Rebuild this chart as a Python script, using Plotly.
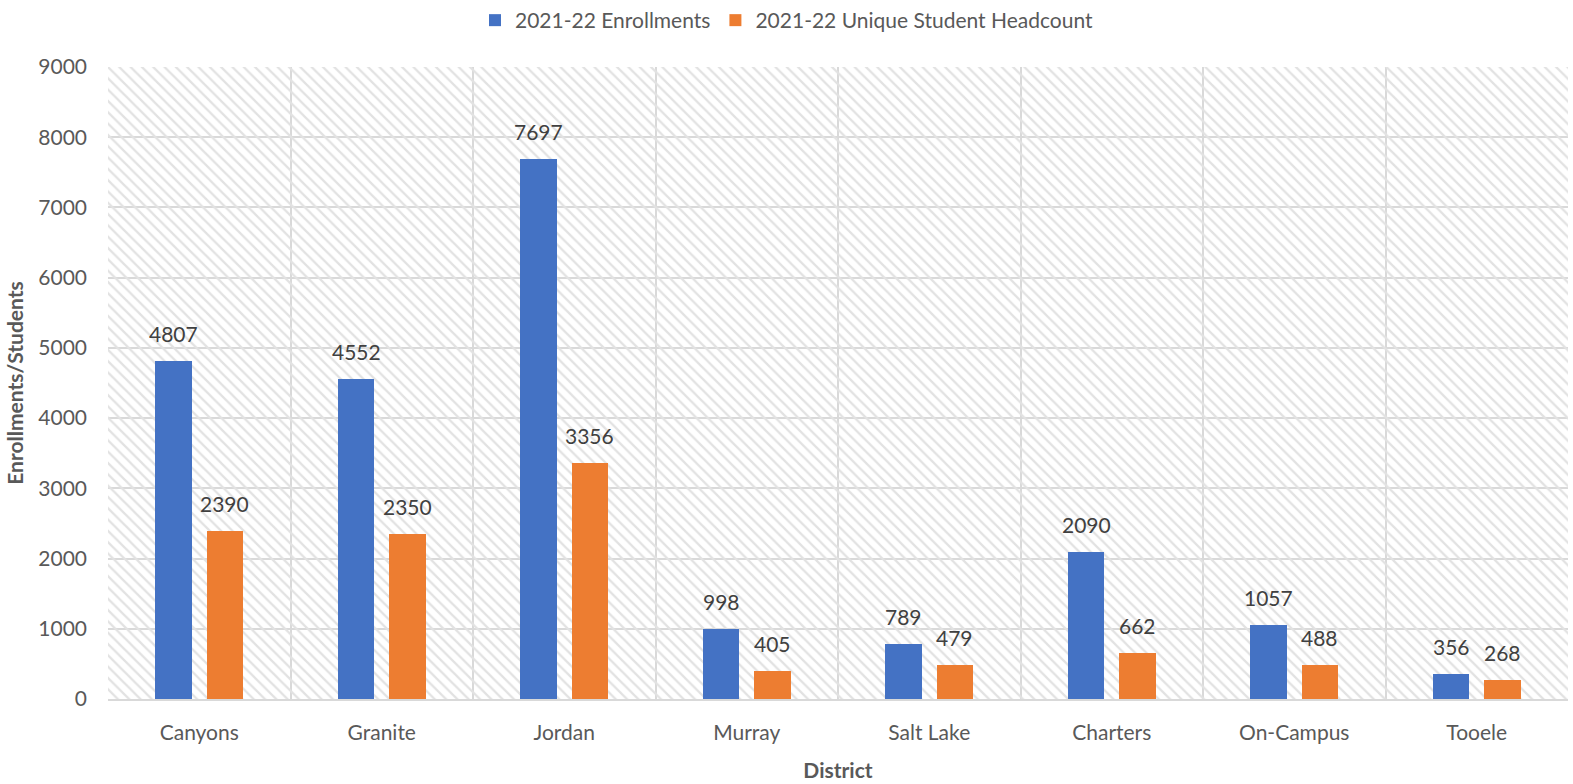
import plotly.graph_objects as go

districts = ["Canyons", "Granite", "Jordan", "Murray", "Salt Lake", "Charters", "On-Campus", "Tooele"]
enrollments = [4807, 4552, 7697, 998, 789, 2090, 1057, 356]
headcount = [2390, 2350, 3356, 405, 479, 662, 488, 268]
y_max = 9000
y_ticks = list(range(0, 9001, 1000))

FONT = "Lato"
TXT = "#595959"
W, H = 1573, 784
ML, MR, MT, MB = 108, 5, 67, 85
BAR_W = 0.2
OFF_BLUE, OFF_ORANGE = -0.24, 0.04

fig = go.Figure()

# hatched plot-area background
fig.add_trace(go.Bar(
    x=districts, y=[y_max] * len(districts), width=1, offset=-0.5,
    marker=dict(color="rgba(0,0,0,0)", line=dict(width=0),
                pattern=dict(shape="\\", fgcolor="#e2e2e2", size=8, solidity=0.28, fillmode="replace")),
    showlegend=False, hoverinfo="skip",
))

fig.add_trace(go.Bar(
    x=districts, y=enrollments, name="2021-22 Enrollments",
    width=BAR_W, offset=OFF_BLUE, marker=dict(color="#4472C4", line=dict(width=0)),
))
fig.add_trace(go.Bar(
    x=districts, y=headcount, name="2021-22 Unique Student Headcount",
    width=BAR_W, offset=OFF_ORANGE, marker=dict(color="#ED7D31", line=dict(width=0)),
))

# data labels
cat_px = (W - ML - MR) / len(districts)
annotations = []
for series, off in ((enrollments, OFF_BLUE), (headcount, OFF_ORANGE)):
    for d, v in zip(districts, series):
        annotations.append(dict(
            x=d, y=v, xref="x", yref="y", text=str(v), showarrow=False,
            xanchor="center", yanchor="bottom",
            xshift=(off + BAR_W / 2) * cat_px, yshift=13,
            font=dict(family=FONT, size=21, color="#404040"),
        ))

fig.update_layout(
    width=W, height=H,
    barmode="overlay",
    paper_bgcolor="white", plot_bgcolor="white",
    margin=dict(l=ML, r=MR, t=MT, b=MB),
    font=dict(family=FONT, size=21, color=TXT),
    annotations=annotations,
    legend=dict(orientation="h", xref="container", x=0.5, xanchor="center",
                yref="container", y=1.0, yanchor="top",
                font=dict(family=FONT, size=21, color=TXT), itemwidth=30,
                traceorder="normal"),
    xaxis=dict(
        tickson="boundaries", showgrid=True, gridcolor="#d9d9d9", gridwidth=2,
        showline=True, linecolor="#d9d9d9", linewidth=2, ticks="",
        tickfont=dict(family=FONT, size=21, color=TXT), ticklabelstandoff=14,
        automargin=False,
        title=dict(text="<b>District</b>", font=dict(family=FONT, size=21, color=TXT), standoff=20),
    ),
    yaxis=dict(
        range=[0, y_max], tickvals=y_ticks, showgrid=True, gridcolor="#d9d9d9", gridwidth=2,
        zeroline=False, showline=False, ticks="",
        tickfont=dict(family=FONT, size=21, color=TXT), ticklabelstandoff=20,
        automargin=False,
        title=dict(text="<b>Enrollments/Students</b>", font=dict(family=FONT, size=21, color=TXT), standoff=8),
    ),
    bargap=0,
)

fig.write_html("out.html")
